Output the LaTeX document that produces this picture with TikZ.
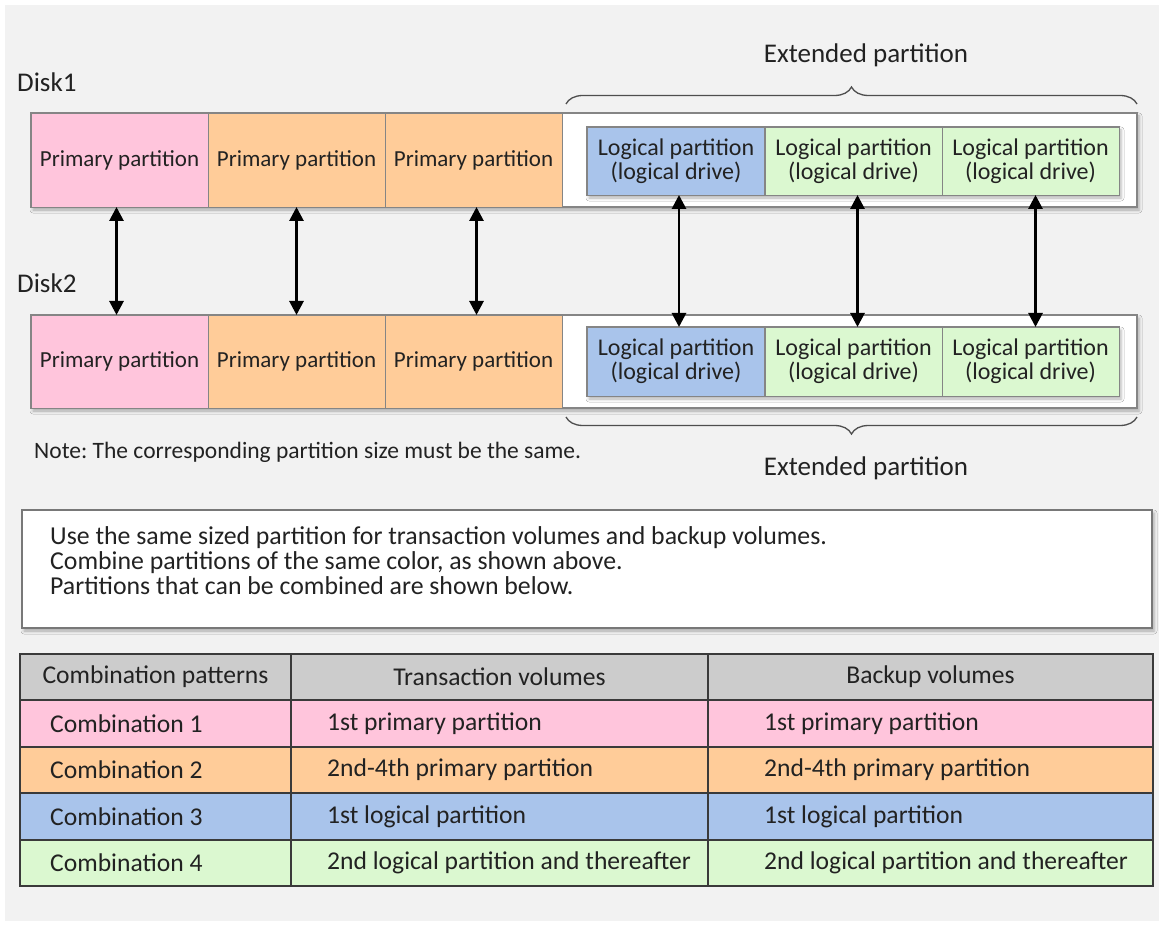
\documentclass[tikz,border=0pt]{standalone}
\usepackage{fontspec}
\setmainfont{Carlito}
\frenchspacing
\usetikzlibrary{arrows.meta,decorations.pathreplacing,shadows.blur}
\definecolor{bggray}{HTML}{F2F2F2}
\definecolor{pinkc}{HTML}{FFC5DC}
\definecolor{orangec}{HTML}{FFCC99}
\definecolor{bluec}{HTML}{A9C4EB}
\definecolor{greenc}{HTML}{DBF8D0}
\definecolor{headc}{HTML}{CCCCCC}
\definecolor{txt}{HTML}{222222}
\definecolor{edgec}{HTML}{858585}
\definecolor{tline}{HTML}{3A3A3A}
\newcommand\fsz[1]{\fontsize{#1}{#1}\selectfont}
\tikzset{
  frame/.style={draw=edgec, line width=1.2pt, fill=white, inner sep=0pt, outer sep=0pt,
    blur shadow={shadow xshift=2pt, shadow yshift=-3pt, shadow blur radius=3pt, shadow opacity=30}},
  part/.style={draw=edgec, line width=0.9pt, inner sep=0pt, outer sep=0pt, text=txt,
    minimum width=177pt, font=\fsz{23}},
  lpart/.style={part, align=center, font=\fsz{24}\linespread{1.05}},
  dbl/.style={{Triangle[width=14pt,length=14pt]}-{Triangle[width=14pt,length=14pt]}, line width=2.8pt, black},
  brc/.style={decorate, decoration={brace, amplitude=17pt}, line width=1.3pt, draw=txt!80},
  lbl/.style={text=txt, inner sep=0pt},
  cell/.style={draw=tline, line width=1.6pt, minimum height=46.5pt, inner sep=0pt, outer sep=0pt, anchor=west},
  ctxt/.style={lbl, font=\fsz{25.6}, anchor=west},
}
\begin{document}
\begin{tikzpicture}[x=1pt,y=-1pt]
\useasboundingbox (0,0) rectangle (1163,925);
\fill[white] (0,0) rectangle (1163,925);
\fill[bggray] (5,5) rectangle (1159,921);

% ---------- Disk1 ----------
\node[lbl, anchor=west, font=\fsz{27}] (disk1) at (17,82) {Disk1};
\node[frame, minimum width=1106pt, minimum height=94pt] (d1) at (584,160) {};
\node[part, fill=pinkc, minimum height=94pt] (p11) at (119.5,160) {Primary partition};
\node[part, fill=orangec, minimum height=94pt] (p12) at (296.5,160) {Primary partition};
\node[part, fill=orangec, minimum height=94pt] (p13) at (473.5,160) {Primary partition};
\node[frame, minimum width=532pt, minimum height=68pt] (g1) at (853,161) {};
\node[lpart, fill=bluec, minimum height=68pt] (l11) at (676,161) {Logical partition\\(logical drive)};
\node[lpart, fill=greenc, minimum height=68pt] (l12) at (853.5,161) {Logical partition\\(logical drive)};
\node[lpart, fill=greenc, minimum height=68pt] (l13) at (1030.5,161) {Logical partition\\(logical drive)};
\coordinate (b1a) at (566,104);
\coordinate (b1b) at (1137,104);
\draw[brc] (b1a) -- (b1b);
\node[lbl, font=\fsz{27}] (ext1) at (866,55) {Extended partition};

% ---------- Disk2 ----------
\node[lbl, anchor=west, font=\fsz{27}] (disk2) at (17,283) {Disk2};
\node[frame, minimum width=1106pt, minimum height=93pt] (d2) at (584,361.5) {};
\node[part, fill=pinkc, minimum height=93pt] (p21) at (119.5,361.5) {Primary partition};
\node[part, fill=orangec, minimum height=93pt] (p22) at (296.5,361.5) {Primary partition};
\node[part, fill=orangec, minimum height=93pt] (p23) at (473.5,361.5) {Primary partition};
\node[frame, minimum width=532pt, minimum height=69pt] (g2) at (853,361.5) {};
\node[lpart, fill=bluec, minimum height=69pt] (l21) at (676,361.5) {Logical partition\\(logical drive)};
\node[lpart, fill=greenc, minimum height=69pt] (l22) at (853.5,361.5) {Logical partition\\(logical drive)};
\node[lpart, fill=greenc, minimum height=69pt] (l23) at (1030.5,361.5) {Logical partition\\(logical drive)};
\coordinate (b2a) at (1137,417);
\coordinate (b2b) at (566,417);
\draw[brc] (b2a) -- (b2b);
\node[lbl, font=\fsz{27}] (ext2) at (866,468) {Extended partition};

% ---------- arrows ----------
\draw[dbl] ([xshift=-3pt]p11.south) -- ([xshift=-3pt]p21.north);
\draw[dbl] (p12.south) -- (p22.north);
\draw[dbl] ([xshift=3pt]p13.south) -- ([xshift=3pt]p23.north);
\draw[dbl] ([xshift=3pt]l11.south) -- ([xshift=3pt]l21.north);
\draw[dbl] ([xshift=4pt]l12.south) -- ([xshift=4pt]l22.north);
\draw[dbl] ([xshift=5pt]l13.south) -- ([xshift=5pt]l23.north);

\node[lbl, anchor=west, font=\fsz{23.5}] (note) at (34,452) {Note: The corresponding partition size must be the same.};

% ---------- text box ----------
\node[frame, draw=edgec!90!black, line width=1.6pt, minimum width=1130pt, minimum height=118pt] (box) at (587,569) {};
\node[lbl, anchor=west, align=left, font=\fontsize{25.8}{25}\selectfont] (boxtxt) at (50,561)
  {Use the same sized partition for transaction volumes and backup volumes.\\
   Combine partitions of the same color, as shown above.\\
   Partitions that can be combined are shown below.};

% ---------- table ----------
\node[cell, fill=headc, minimum width=271pt] (h1) at (20,677) {};
\node[cell, fill=headc, minimum width=417pt] (h2) at (291,677) {};
\node[cell, fill=headc, minimum width=445pt] (h3) at (708,677) {};
\node[lbl, font=\fsz{25.6}] (h1t) at (h1.center) {Combination patterns};
\node[lbl, font=\fsz{25.6}] (h2t) at (h2.center) {Transaction volumes};
\node[lbl, font=\fsz{25.6}] (h3t) at (h3.center) {Backup volumes};

\node[cell, fill=pinkc, minimum width=271pt] (c11) at (20,723.5) {};
\node[cell, fill=pinkc, minimum width=417pt] (c12) at (291,723.5) {};
\node[cell, fill=pinkc, minimum width=445pt] (c13) at (708,723.5) {};
\node[cell, fill=orangec, minimum width=271pt] (c21) at (20,770) {};
\node[cell, fill=orangec, minimum width=417pt] (c22) at (291,770) {};
\node[cell, fill=orangec, minimum width=445pt] (c23) at (708,770) {};
\node[cell, fill=bluec, minimum width=271pt] (c31) at (20,816.5) {};
\node[cell, fill=bluec, minimum width=417pt] (c32) at (291,816.5) {};
\node[cell, fill=bluec, minimum width=445pt] (c33) at (708,816.5) {};
\node[cell, fill=greenc, minimum width=271pt] (c41) at (20,863) {};
\node[cell, fill=greenc, minimum width=417pt] (c42) at (291,863) {};
\node[cell, fill=greenc, minimum width=445pt] (c43) at (708,863) {};

\node[ctxt] (t11) at ([xshift=30pt]c11.west) {Combination 1};
\node[ctxt] (t12) at ([xshift=36pt]c12.west) {1st primary partition};
\node[ctxt] (t13) at ([xshift=56pt]c13.west) {1st primary partition};
\node[ctxt] (t21) at ([xshift=30pt]c21.west) {Combination 2};
\node[ctxt] (t22) at ([xshift=36pt]c22.west) {2nd-4th primary partition};
\node[ctxt] (t23) at ([xshift=56pt]c23.west) {2nd-4th primary partition};
\node[ctxt] (t31) at ([xshift=30pt]c31.west) {Combination 3};
\node[ctxt] (t32) at ([xshift=36pt]c32.west) {1st logical partition};
\node[ctxt] (t33) at ([xshift=56pt]c33.west) {1st logical partition};
\node[ctxt] (t41) at ([xshift=30pt]c41.west) {Combination 4};
\node[ctxt] (t42) at ([xshift=36pt]c42.west) {2nd logical partition and thereafter};
\node[ctxt] (t43) at ([xshift=56pt]c43.west) {2nd logical partition and thereafter};
\end{tikzpicture}
\end{document}
